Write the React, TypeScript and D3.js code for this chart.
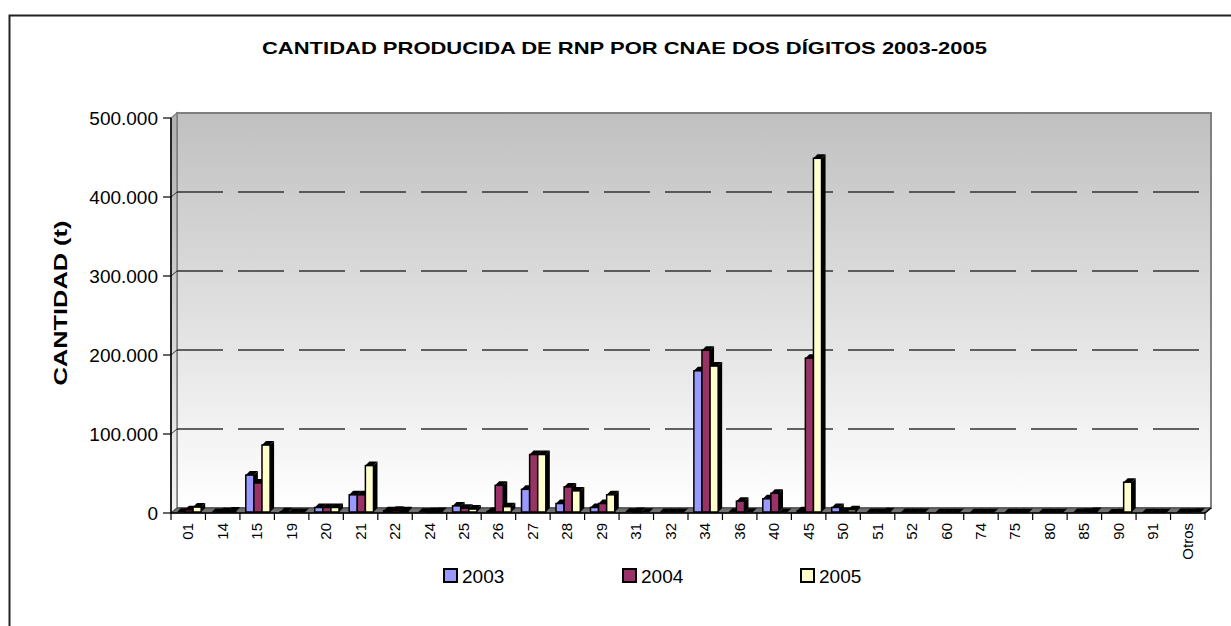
import React from "react";
import * as d3 from "d3";

const categories = ["01","14","15","19","20","21","22","24","25","26","27","28","29","31","32","34","36","40","45","50","51","52","60","74","75","80","85","90","91","Otros"];
const v2003 = [1000,500,48000,1500,7000,23000,3000,1000,9000,2000,30000,12000,7000,1000,500,180000,1000,18000,3000,7000,500,500,300,200,300,200,500,0,200,500];
const v2004 = [4000,1500,38000,500,7000,23000,3500,1500,6000,35000,74000,33000,12000,2000,500,206000,15000,25000,196000,2000,500,500,300,200,300,200,1000,0,200,500];
const v2005 = [7500,2500,86000,500,7000,60000,3000,2000,5000,8000,74000,28000,23000,1000,500,186000,1000,500,449000,4000,1500,500,300,200,300,200,2000,39000,200,1000];
const seriesNames = ["2003","2004","2005"];
const seriesColors = ["#9999FF","#993366","#FFFFCC"];
const yTicks = [0,100000,200000,300000,400000,500000];

const fmt = (v: number) => (v === 0 ? "0" : d3.format(",")(v).replace(/,/g, "."));

export default function App() {
  const W = 1231, H = 626;
  const x0 = 171, x1 = 1205, yBase = 513, yTop = 118;
  const DX = 6, DY = 5;
  const x = d3.scaleBand<string>().domain(categories).range([x0, x1]).padding(0);
  const y = d3.scaleLinear().domain([0, 500000]).range([yBase, yTop]);
  const bw = x.bandwidth() * 0.235;
  const off = x.bandwidth() * 0.17;
  const d = 4;
  const series = [v2003, v2004, v2005];

  return (
    <svg width={W} height={H} style={{ position: "absolute", left: 0, top: 0, background: "#fff" }} fontFamily="Liberation Sans, Arial, sans-serif">
      <defs>
        <linearGradient id="wallg" x1="0" y1="0" x2="0" y2="1">
          <stop offset="0" stopColor="#c0c0c0" />
          <stop offset="1" stopColor="#ffffff" />
        </linearGradient>
        <linearGradient id="sideg" x1="0" y1="0" x2="0" y2="1">
          <stop offset="0" stopColor="#b0b0b0" />
          <stop offset="1" stopColor="#f4f4f4" />
        </linearGradient>
      </defs>
      {/* outer frame */}
      <path d={`M9.5,${H} V15.5 H${W}`} fill="none" stroke="#222" strokeWidth={2} />
      {/* title */}
      <text x={624.5} y={54} textAnchor="middle" fontWeight="bold" fontSize={17} textLength={725} lengthAdjust="spacingAndGlyphs">
        CANTIDAD PRODUCIDA DE RNP POR CNAE DOS DÍGITOS 2003-2005
      </text>
      {/* y title */}
      <text transform={`translate(67,303) rotate(-90)`} textAnchor="middle" fontWeight="bold" fontSize={18} textLength={165} lengthAdjust="spacingAndGlyphs">
        CANTIDAD (t)
      </text>
      {/* back wall */}
      <rect x={x0 + DX} y={yTop - DY} width={x1 - x0} height={yBase - yTop} fill="url(#wallg)" stroke="#808080" strokeWidth={2} />
      {/* side wall */}
      <polygon points={`${x0},${yTop} ${x0 + DX},${yTop - DY} ${x0 + DX},${yBase - DY} ${x0},${yBase}`} fill="url(#sideg)" stroke="#808080" strokeWidth={1.5} />
      {/* gridlines */}
      {yTicks.slice(1, 5).map((t) => (
        <g key={t}>
          <line x1={x0 + DX} x2={x1 + DX} y1={y(t) - DY} y2={y(t) - DY} stroke="#333" strokeWidth={1.5} strokeDasharray="46,15" />
          <line x1={x0} x2={x0 + DX} y1={y(t)} y2={y(t) - DY} stroke="#333" strokeWidth={1} />
        </g>
      ))}
      {/* floor */}
      <polygon points={`${x0},${yBase} ${x1},${yBase} ${x1 + DX},${yBase - DY} ${x0 + DX},${yBase - DY}`} fill="#707070" stroke="#444" strokeWidth={1} />
      {/* bars */}
      {categories.map((c, i) => (
        <g key={c}>
          {series.map((s, k) => {
            const bx = (x(c) as number) + off + k * bw;
            const by = y(s[i]);
            const yb = yBase - 1;
            return (
              <g key={k}>
                <polygon points={`${bx + bw},${by} ${bx + bw + d},${by - d} ${bx + bw + d},${yb - d} ${bx + bw},${yb}`} fill="#000" />
                <polygon points={`${bx},${by} ${bx + d},${by - d} ${bx + bw + d},${by - d} ${bx + bw},${by}`} fill="#000" />
                <rect x={bx} y={by} width={bw} height={Math.max(0, yb - by)} fill={seriesColors[k]} stroke="#000" strokeWidth={1.5} />
              </g>
            );
          })}
        </g>
      ))}
      {/* axes */}
      <line x1={x0} x2={x0} y1={yTop} y2={yBase} stroke="#000" strokeWidth={1.5} />
      <line x1={x0} x2={x1} y1={yBase} y2={yBase} stroke="#000" strokeWidth={1.5} />
      <line x1={x1} x2={x1 + DX} y1={yBase} y2={yBase - DY} stroke="#000" strokeWidth={1.5} />
      {yTicks.map((t) => (
        <g key={t}>
          <line x1={x0 - 8} x2={x0} y1={y(t)} y2={y(t)} stroke="#000" strokeWidth={1.2} />
          <text x={158} y={y(t)} dy="0.35em" textAnchor="end" fontSize={19}>{fmt(t)}</text>
        </g>
      ))}
      {categories.map((c) => (
        <line key={"t" + c} x1={x(c) as number} x2={x(c) as number} y1={yBase} y2={yBase + 7} stroke="#000" strokeWidth={1.2} />
      ))}
      <line x1={x1} x2={x1} y1={yBase} y2={yBase + 7} stroke="#000" strokeWidth={1.2} />
      {categories.map((c) => {
        const cx = (x(c) as number) + x.bandwidth() / 2;
        return (
          <text key={"l" + c} transform={`translate(${cx + 5},523) rotate(-90)`} textAnchor="end" fontSize={15}>{c}</text>
        );
      })}
      {/* legend */}
      {seriesNames.map((n, k) => {
        const lx = [443, 622, 800][k];
        return (
          <g key={n}>
            <rect x={lx + 1} y={569} width={13} height={13} fill={seriesColors[k]} stroke="#000" strokeWidth={2} />
            <text x={lx + 19} y={583} fontSize={19}>{n}</text>
          </g>
        );
      })}
    </svg>
  );
}
